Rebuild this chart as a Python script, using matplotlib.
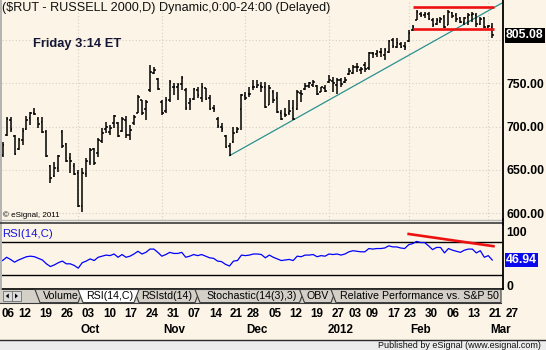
import matplotlib
matplotlib.use("Agg")
import matplotlib.pyplot as plt
import matplotlib.transforms as mtransforms
from matplotlib.patches import Polygon, Rectangle
import numpy as np
import pandas as pd

plt.rcParams['font.family'] = ['Liberation Sans', 'DejaVu Sans']

# daily bars, Tue Sep 6 2011 .. Fri Mar 2 2012 (market holidays removed)
holidays = pd.to_datetime(['2011-11-24', '2011-12-26', '2012-01-02',
                           '2012-01-16', '2012-02-20'])
dates = pd.bdate_range('2011-09-06', '2012-03-02')
dates = dates[~dates.isin(holidays)]

opens = [667, 690, 708, 689, 674, 684, 697, 710, 716, 709, 705, 694, 655, 643, 652, 694, 680, 664, 655, 646,
         608, 645, 659, 674, 670, 683, 697, 694, 704, 704, 695, 708, 690, 704, 716, 730, 720, 742, 762, 755,
         728, 718, 731, 745, 745, 749, 742, 727, 732, 742, 733, 744, 733, 721, 709, 700, 689, 678, 682, 694,
         720, 735, 738, 746, 746, 747, 745, 725, 740, 733, 716, 714, 716, 721, 720, 739, 743, 747, 748, 747,
         740, 744, 751, 752, 748, 753, 751, 761, 762, 769, 765, 771, 767, 785, 783, 786, 782, 786, 800, 792,
         795, 793, 798, 811, 823, 830, 829, 830, 823, 818, 822, 826, 817, 831, 828, 825, 819, 826, 828, 829,
         818, 825, 815, 815]
highs = [682.5, 711, 711, 690, 687, 698, 712, 717, 721, 711, 711, 696, 656, 659, 667, 696, 681, 669.5, 658, 650,
         652, 663.7, 675, 675, 687, 698, 705.5, 702, 713, 705.5, 711, 712, 701.7, 713, 736, 731, 731, 771, 769, 755.5,
         731, 734, 753.6, 749.8, 749.8, 758, 744, 732.5, 744, 746, 749.8, 744, 736, 724.8, 711, 703.7, 690, 680.6, 699.8, 700,
         738, 740, 746, 753.6, 753.6, 751.6, 751.6, 747.8, 742, 740, 719, 721, 730.5, 730.5, 742, 742, 749.8, 751.6, 753.6, 747.8,
         746, 747.8, 759, 757.4, 755.5, 755.5, 757, 767, 770.9, 772.8, 769, 774.7, 786, 786, 788, 790, 790, 799.7, 801.6, 801.6,
         797.7, 797.7, 811, 817, 834.2, 832.3, 832, 832, 824.6, 824.6, 826.5, 828.5, 834.2, 832.3, 830.4, 826.5, 826.5, 830.4, 832.3, 830.4,
         826.5, 826.5, 817, 818.9]
lows = [665.2, 689, 694, 667, 673, 679, 696, 702, 713, 698, 692.5, 665, 635, 642, 648, 675, 659, 646.4, 644, 607.6,
        601.8, 642, 655.6, 655.6, 665, 681, 692.5, 690, 698, 688, 694, 687, 684.4, 702, 715, 713, 707, 740, 761, 742,
        713, 715, 728.6, 736, 730.5, 742, 719, 719, 730.5, 732.5, 728.6, 730, 719, 717, 698, 694, 675, 666.4, 680.6, 692,
        696, 730.5, 734, 742, 744, 740, 721, 724.8, 726.7, 715, 707.5, 711, 713, 707.5, 719, 728.6, 742, 744, 746, 736,
        740, 740, 749.8, 740, 738, 745.9, 749.8, 759, 761, 763, 761, 763, 765, 778.6, 780, 780.4, 776.6, 784.3, 790, 790,
        790, 788, 797.7, 810.4, 822.7, 826.5, 824.6, 822.7, 815, 817, 818.9, 813, 817, 824.6, 820.8, 818.9, 817, 817, 820.8, 815,
        817, 813, 813, 801.6]
closes = [679, 709, 697, 668, 685, 695, 708, 715, 714, 703, 694, 666, 641, 652, 666, 678, 660, 660, 645, 609,
          647, 660, 673, 658, 685, 693, 700, 698, 712, 689, 709, 690, 696, 711, 734, 715, 728, 763, 765, 743,
          716, 730, 751, 746, 748, 756, 721, 729, 743, 736, 746, 732, 720, 720, 701, 697, 676, 667, 693, 697,
          736, 733, 738, 746, 748, 746, 723, 744, 730, 717, 709, 713, 718, 709, 740, 738, 747, 750, 751, 737,
          745, 741, 754, 750, 754, 749, 754, 764, 768, 768, 766, 766, 785, 783, 786, 786, 788, 798, 793, 796,
          792, 791, 808, 815, 832, 829, 830, 824, 817, 823, 824, 815, 832, 827, 824, 820, 825, 828, 830, 818,
          824, 815, 816, 805.08]
rsi = [46, 52, 48, 43, 47, 50, 53, 54, 53, 50, 47, 40, 35, 38, 42, 45, 40, 40, 37, 32,
       42, 45, 49, 46, 52, 54, 56, 55, 58, 52, 57, 52, 54, 58, 63, 58, 61, 67, 67, 61,
       54, 57, 61, 59, 59, 61, 52, 54, 57, 55, 57, 54, 51, 50, 45, 44, 39, 36, 45, 46,
       56, 55, 56, 58, 58, 57, 51, 56, 52, 49, 46, 47, 48, 46, 54, 53, 56, 56, 57, 53,
       55, 54, 58, 57, 58, 56, 58, 62, 64, 63, 62, 62, 68, 67, 68, 68, 69, 73, 71, 71,
       69, 68, 75, 77, 81, 79, 79, 73, 66, 70, 70, 60, 68, 65, 63, 61, 65, 67, 67, 60,
       64, 52, 55, 46.94]

# drawn studies
trend_anchors = ['2011-11-25', '2011-12-19']     # support line through these two lows
channel_span = ['2012-02-02', '2012-03-02']
channel_top = 837.3
channel_bottom = 812.0
rsi_div_dates = ['2012-02-01', '2012-03-02']
rsi_div_values = [94.7, 72.3]
price_ticks = [600, 650, 700, 750]
price_grid = [600, 650, 700, 750, 800]
rsi_bands = [20, 80]
month_names = ['Oct', 'Nov', 'Dec', '2012', 'Feb', 'Mar']
tabs = ['Volume', 'RSI(14,C)', 'RSIstd(14)', 'Stochastic(14(3),3)', 'OBV',
        'Relative Performance vs. S&P 50']

x = np.arange(len(dates))
pos = {d: i for i, d in enumerate(dates)}


def ix(s):
    return pos[pd.Timestamp(s)]


W, H = 546, 350
CREAM = '#fcf5e7'
GRID = '#d6cfc2'
fig = plt.figure(figsize=(W / 100, H / 100), dpi=100, facecolor=CREAM)


def rect(x0, y0, x1, y1):
    # pixel box measured from the top-left corner -> figure fraction
    return [x0 / W, 1 - y1 / H, (x1 - x0) / W, (y1 - y0) / H]


XLIM = (-0.15, 125.7)

# ---- price pane ----
ax = fig.add_axes(rect(2, 0, 503, 219.5))
ax.set_facecolor(CREAM)
ax.set_xlim(*XLIM)
ax.set_ylim(592.9, 845.7)
for lvl in price_grid:
    ax.axhline(lvl, color=GRID, lw=0.8, ls=(0, (1, 2)), zorder=0)
month_first = [i for i in range(1, len(dates)) if dates[i].month != dates[i - 1].month]
for i in month_first:
    ax.axvline(i, color=GRID, lw=0.8, ls=(0, (1, 2)), zorder=0)

ax.vlines(x, lows, highs, color='black', lw=1.1, zorder=3)
ax.hlines(opens, x - 0.42, x, color='black', lw=1.1, zorder=3)
ax.hlines(closes, x, x + 0.42, color='black', lw=1.1, zorder=3)

# support line from the November low, extended to the right edge
a, b = ix(trend_anchors[0]), ix(trend_anchors[1])
slope = (lows[b] - lows[a]) / (b - a)
ax.plot([a, XLIM[1]], [lows[a], lows[a] + slope * (XLIM[1] - a)],
        color='#2a9090', lw=0.9, zorder=2)

# trading range
c0, c1 = ix(channel_span[0]), ix(channel_span[1]) + 0.5
ax.hlines([channel_top, channel_bottom], c0, c1, color='#ee1111', lw=1.9, zorder=4)

ax.yaxis.tick_right()
ax.set_yticks(price_ticks, [f'{v:.2f}' for v in price_ticks], fontweight='bold')
ax.tick_params(axis='y', length=0, pad=2.2, labelsize=8.8)
ax.tick_params(axis='x', bottom=False, labelbottom=False)
for s in ('left', 'top', 'bottom'):
    ax.spines[s].set_visible(False)
ax.spines['right'].set_linewidth(1.3)

ax.text(1.006, closes[-1], f'{closes[-1]:.2f}',
        transform=mtransforms.blended_transform_factory(ax.transAxes, ax.transData),
        ha='left', va='center', color='white', fontsize=8.8, fontweight='bold',
        bbox=dict(boxstyle='square,pad=0.12', fc='black', ec='none'), clip_on=False, zorder=6)

# ---- RSI pane ----
rs = fig.add_axes(rect(2, 224, 503, 289))
rs.set_facecolor(CREAM)
rs.set_xlim(*XLIM)
rs.set_ylim(-6.2, 113)
for lvl in rsi_bands:
    rs.axhline(lvl, color='black', lw=1.0, zorder=1)
rs.plot(x, rsi, color='#0000ff', lw=0.9, zorder=3)
d0, d1 = ix(rsi_div_dates[0]), ix(rsi_div_dates[1]) + 0.3
rs.plot([d0, d1], rsi_div_values, color='#ee1111', lw=1.9, zorder=4)
rs.yaxis.tick_right()
rs.set_yticks([0, 100], ['0', '100'], fontweight='bold')
rs.tick_params(axis='y', length=0, pad=2.2, labelsize=8.8)
rs.tick_params(axis='x', bottom=False, labelbottom=False)
for s in ('left', 'top'):
    rs.spines[s].set_visible(False)
rs.spines['right'].set_linewidth(1.3)
rs.spines['bottom'].set_linewidth(1.2)
rs.text(1.006, rsi[-1], f'{rsi[-1]:.2f}',
        transform=mtransforms.blended_transform_factory(rs.transAxes, rs.transData),
        ha='left', va='center', color='white', fontsize=8.8, fontweight='bold',
        bbox=dict(boxstyle='square,pad=0.12', fc='#0a0aee', ec='none'), clip_on=False, zorder=6)

# ---- date scale ----
dax = fig.add_axes(rect(0, 303, 546, 340))
dax.set_xlim(-1 / 4.24, 545 / 4.24)
dax.set_ylim(340, 303)
dax.axis('off')
week = dates.to_period('W')
week_first = [0] + [i for i in range(1, len(dates)) if week[i] != week[i - 1]]
for i in week_first:
    dax.text(i, 314, f'{dates[i].day:02d}', ha='left', va='center',
             fontsize=8.4, fontweight='bold')
mtr = mtransforms.blended_transform_factory(ax.transData, dax.transData)
for i, name in zip(month_first, month_names):
    dax.text(i + 3, 330, name, transform=mtr, ha='center', va='center',
             fontsize=8.4, fontweight='bold', clip_on=False)

# ---- frame, tabs and captions ----
ov = fig.add_axes([0, 0, 1, 1], zorder=10)
ov.set_xlim(0, W)
ov.set_ylim(H, 0)
ov.axis('off')
ov.patch.set_visible(False)

ov.plot([0.8, 0.8], [0, 289], color='#a8a8a8', lw=1.2)
ov.plot([0, 503], [220.0, 220.0], color='#b8b8b8', lw=1.0)
ov.plot([0, 503], [222.6, 222.6], color='#3c3c3c', lw=1.2)
ov.plot([503.3, 503.3], [219, 224], color='black', lw=1.3)

ov.text(2, 8.3, '($RUT - RUSSELL 2000,D) Dynamic,0:00-24:00 (Delayed)',
        ha='left', va='center', fontsize=9.1, color='#111111')
ov.text(33, 44.5, 'Friday 3:14 ET', ha='left', va='center',
        fontsize=9.3, fontweight='bold', color='#151535')
ov.text(3, 215, '\u00a9 eSignal, 2011', ha='left', va='center', fontsize=5.8)
ov.text(2, 234, 'RSI(14,C)', ha='left', va='center', fontsize=8.2, color='#1515dd')

# tab strip
ov.add_patch(Rectangle((0, 289.5), 501, 13.5, fc='#d4d0c8', ec='none'))
for bx in (3, 12):
    ov.add_patch(Rectangle((bx, 291), 8.5, 10, fc='#dcdcdc', ec='#707070', lw=0.6))
ov.add_patch(Polygon([[8.8, 293.5], [8.8, 298.5], [5.8, 296]], closed=True, fc='black', ec='none'))
ov.add_patch(Polygon([[15, 293.5], [15, 298.5], [18, 296]], closed=True, fc='black', ec='none'))

tab_left = [35, 78, 134, 195, 299.5, 331]
tab_right = [83, 139, 200, 304.5, 336, 501]
text_mid = [60.7, 109.7, 167, 251.5, 317.5, None]
order = [0, 2, 3, 4, 5, 1]        # active tab last
for k in order:
    l, r = tab_left[k], tab_right[k]
    rr = r - 5 if k != 5 else r
    poly = Polygon([[l, 289.5], [l + 5, 302.6], [rr, 302.6], [r, 289.5]], closed=True,
                   fc='white' if k == 1 else '#d4d0c8', ec='#3a3a3a', lw=0.8)
    ov.add_patch(poly)
    if text_mid[k] is None:
        t = ov.text(339.5, 296.2, tabs[k], ha='left', va='center', fontsize=7.7)
    else:
        t = ov.text(text_mid[k], 296.2, tabs[k], ha='center', va='center', fontsize=7.7)
    t.set_clip_path(poly)
ov.plot([0, 501], [302.8, 302.8], color='#3a3a3a', lw=0.8)

# status bar
ov.add_patch(Rectangle((0, 340), W, 10, fc='#ececec', ec='none'))
ov.plot([0, W], [340, 340], color='#2a2a2a', lw=1.0)
ov.text(541, 345.5, 'Published by eSignal (www.esignal.com)', ha='right', va='center',
        fontsize=6.5, color='#111111')

fig.savefig('out.png', dpi=100, facecolor=CREAM)
